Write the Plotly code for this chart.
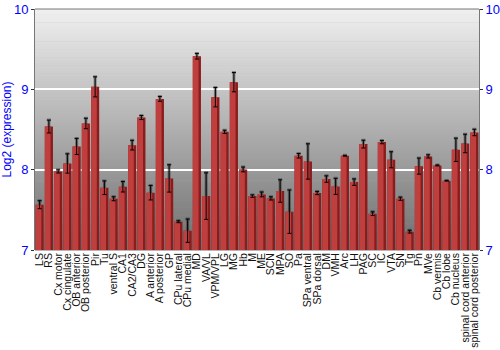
import plotly.graph_objects as go

regions = ["LS", "RS", "Cx motor", "Cx cingulate", "OB anterior", "OB posterior", "Pir", "Tu",
           "ventral S", "CA1", "CA2/CA3", "DG", "A anterior", "A posterior", "GP", "CPu lateral",
           "CPu medial", "MD", "VA/VL", "VPM/VPL", "LG", "MG", "Hb", "M", "ME", "SCN", "MPA", "SO",
           "Pa", "SPa ventral", "SPa dorsal", "DM", "VMH", "Arc", "LH", "PAG", "SC", "IC", "VTA",
           "SN", "Tg", "Pn", "MVe", "Cb vermis", "Cb lobe", "Cb nucleus",
           "spinal cord anterior", "spinal cord posterior"]

expression = [7.564, 8.537, 7.978, 8.077, 8.289, 8.575, 9.031, 7.775,
              7.638, 7.787, 8.305, 8.649, 7.713, 8.881, 7.891, 7.352,
              7.240, 9.412, 7.671, 8.902, 8.471, 9.089, 8.003, 7.671, 7.692, 7.642, 7.734, 7.477,
              8.173, 8.102, 7.709, 7.883, 7.792, 8.173, 7.845, 8.318, 7.452, 8.343, 8.123,
              7.638, 7.228, 8.044, 8.165, 8.053, 7.862, 8.247,
              8.326, 8.463]

error = [0.05, 0.08, 0.02, 0.12, 0.10, 0.065, 0.125, 0.085,
         0.025, 0.065, 0.06, 0.025, 0.09, 0.03, 0.17, 0.012,
         0.145, 0.035, 0.29, 0.12, 0.02, 0.12, 0.03, 0.015, 0.03, 0.02, 0.14, 0.27,
         0.028, 0.22, 0.02, 0.04, 0.10, 0.005, 0.04, 0.048, 0.023, 0.02, 0.10,
         0.02, 0.017, 0.10, 0.02, 0.006, 0.004, 0.145,
         0.115, 0.04]

y_ticks = [7, 8, 9, 10]
y_range = [7, 10]

fig = go.Figure()

# dark base of each bar (right edge shade) with soft error halo
fig.add_trace(go.Bar(
    x=regions, y=expression, width=0.88,
    marker=dict(color="#8a1c1c", line=dict(width=0)),
    error_y=dict(type="data", array=error, color="rgba(0,0,0,0.35)", thickness=3, width=2),
    hoverinfo="skip", showlegend=False,
))
# lighter left/middle part of each bar
fig.add_trace(go.Bar(
    x=regions, y=expression, width=0.62, offset=-0.44,
    marker=dict(color="#bf3e3e", line=dict(width=0)),
    showlegend=False, hoverinfo="skip",
))
fig.add_trace(go.Bar(
    x=regions, y=expression, width=0.88,
    marker=dict(color="rgba(0,0,0,0)", line=dict(width=0)),
    error_y=dict(type="data", array=error, color="#000000", thickness=1, width=2),
    showlegend=False,
))
# invisible helper so the right-hand axis is drawn
fig.add_trace(go.Scatter(
    x=[regions[0]], y=[y_range[0]], yaxis="y2", mode="markers",
    marker=dict(opacity=0), showlegend=False, hoverinfo="skip",
))

# vertical gradient background
shapes = []
n = 90
top = (240, 240, 240)
bot = (110, 110, 110)
for i in range(n):
    t = (i + 0.5) / n
    c = [round(top[k] + (bot[k] - top[k]) * t) for k in range(3)]
    shapes.append(dict(
        type="rect", xref="x domain", yref="y domain",
        x0=0, x1=1, y0=1 - (i + 1) / n - 0.002, y1=1 - i / n,
        fillcolor="rgb(%d,%d,%d)" % tuple(c), line=dict(width=0), layer="below",
    ))
# top frame line
shapes.append(dict(type="line", xref="x domain", yref="y domain", x0=0, x1=1, y0=1, y1=1,
                   line=dict(color="#777777", width=1), layer="above"))

fig.update_layout(
    width=500, height=350,
    margin=dict(l=35, r=21, t=9, b=100),
    paper_bgcolor="white", plot_bgcolor="#b0b0b0",
    barmode="overlay", bargap=0.05,
    shapes=shapes,
    font=dict(family="Liberation Sans, Arial, sans-serif", color="#000000"),
    xaxis=dict(
        type="category", tickangle=-90, tickfont=dict(size=10.5, color="#111111"),
        tickmode="array", tickvals=regions, ticktext=regions,
        showgrid=False, showline=False, ticks="", ticklen=0,
        range=[-0.5, len(regions) - 0.5], automargin=False,
    ),
    yaxis=dict(
        range=y_range, tickvals=y_ticks, ticktext=[str(v) for v in y_ticks],
        tickfont=dict(size=13, color="#0000ff"),
        showgrid=True, gridcolor="#ffffff", gridwidth=1.5,
        showline=True, linecolor="#777777", linewidth=1, mirror=False,
        ticks="outside", ticklen=3, tickcolor="#333333",
        zeroline=False, automargin=False,
        title=dict(text="Log2 (expression)", font=dict(size=12, color="#0000ff"), standoff=6),
    ),
    yaxis2=dict(
        overlaying="y", side="right", anchor="x",
        range=y_range, tickvals=y_ticks, ticktext=[str(v) for v in y_ticks],
        tickfont=dict(size=13, color="#0000ff"),
        showgrid=False, showline=True, linecolor="#777777", linewidth=1,
        ticks="outside", ticklen=3, tickcolor="#333333", zeroline=False, automargin=False,
    ),
)

fig.write_html("out.html")
